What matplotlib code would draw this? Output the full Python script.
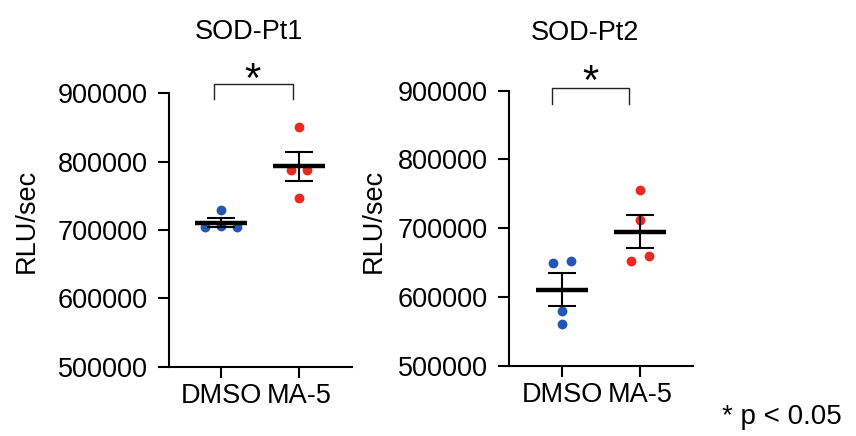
import numpy as np
import matplotlib
matplotlib.use("Agg")
import matplotlib.pyplot as plt

plt.rcParams['font.family'] = ['Liberation Sans', 'DejaVu Sans']

categories = ["DMSO", "MA-5"]
titles = ["SOD-Pt1", "SOD-Pt2"]
yticks = [500000, 600000, 700000, 800000, 900000]

pt1_dmso = [729000, 704000, 706500, 704000]
pt1_ma5 = [850000, 788000, 788000, 747000]
pt2_dmso = [650000, 652000, 580000, 560000]
pt2_ma5 = [755000, 711500, 652500, 659500]

# horizontal scatter offsets (layout only)
offsets = {
    "pt1_dmso": [0.0, -0.21, 0.0, 0.21],
    "pt1_ma5": [0.0, -0.105, 0.105, 0.0],
    "pt2_dmso": [-0.11, 0.11, 0.0, 0.0],
    "pt2_ma5": [0.0, 0.0, -0.11, 0.11],
}

BLUE = "#2257b6"
RED = "#ea2a1e"

W, H = 856, 436
fig = plt.figure(figsize=(W / 100, H / 100), dpi=100)

def px(x0, y_top, x1, y_bot):
    return [x0 / W, 1 - y_bot / H, (x1 - x0) / W, (y_bot - y_top) / H]

panels = [
    dict(rect=px(169, 93.3, 352, 366.7), xlim=(-0.667, 1.679),
         data=[pt1_dmso, pt1_ma5], offs=[offsets["pt1_dmso"], offsets["pt1_ma5"]],
         title=titles[0], title_xy=(249, 39), star_xy=(252, 92),
         bracket=(214, 293, 83.7, 99.5), ylabel_x=27),
    dict(rect=px(509, 90.7, 693, 365.7), xlim=(-0.679, 1.679),
         data=[pt2_dmso, pt2_ma5], offs=[offsets["pt2_dmso"], offsets["pt2_ma5"]],
         title=titles[1], title_xy=(585, 40), star_xy=(590, 94),
         bracket=(552, 629, 88.3, 104), ylabel_x=374),
]

FS = 19.5
for p in panels:
    ax = fig.add_axes(p["rect"])
    ax.set_xlim(*p["xlim"])
    ax.set_ylim(500000, 900000)
    for s in ["top", "right"]:
        ax.spines[s].set_visible(False)
    for s in ["left", "bottom"]:
        ax.spines[s].set_linewidth(1.5)
    ax.set_yticks(yticks)
    ax.set_yticklabels([str(v) for v in yticks])
    ax.set_xticks(range(len(categories)))
    ax.set_xticklabels(categories)
    ax.tick_params(axis="both", length=8, width=1.5, labelsize=FS, color="black")
    ax.tick_params(axis="y", pad=7)
    ax.tick_params(axis="x", pad=4)

    for i, (vals, offs, col) in enumerate(zip(p["data"], p["offs"], [BLUE, RED])):
        v = np.array(vals, dtype=float)
        m = v.mean()
        sem = v.std(ddof=1) / np.sqrt(len(v))
        ax.scatter(np.array(offs) + i, v, s=50, color=col, zorder=3, linewidths=0)
        ax.plot([i - 0.33, i + 0.33], [m, m], color="black", lw=3.2, zorder=4,
                solid_capstyle="butt")
        ax.plot([i, i], [m - sem, m + sem], color="black", lw=1.5, zorder=4)
        for yy in (m - sem, m + sem):
            ax.plot([i - 0.18, i + 0.18], [yy, yy], color="black", lw=1.5, zorder=4,
                    solid_capstyle="butt")

    tx, ty = p["title_xy"]
    fig.text(tx / W, 1 - ty / H, p["title"], ha="center", va="baseline", fontsize=FS)
    sx, sy = p["star_xy"]
    fig.text(sx / W, 1 - sy / H, "*", ha="center", va="baseline", fontsize=30)
    bx0, bx1, bt, bb = p["bracket"]
    fig.add_artist(plt.Line2D([bx0 / W, bx0 / W, bx1 / W, bx1 / W],
                              [1 - bb / H, 1 - bt / H, 1 - bt / H, 1 - bb / H],
                              color="#222222", lw=1.0, transform=fig.transFigure))
    fig.text(p["ylabel_x"] / W, 1 - 221 / H, "RLU/sec", rotation=90,
             ha="center", va="center", fontsize=FS)

fig.text(722 / W, 1 - 424 / H, "* p < 0.05", ha="left", va="baseline", fontsize=20)

fig.savefig("out.png", dpi=100)
